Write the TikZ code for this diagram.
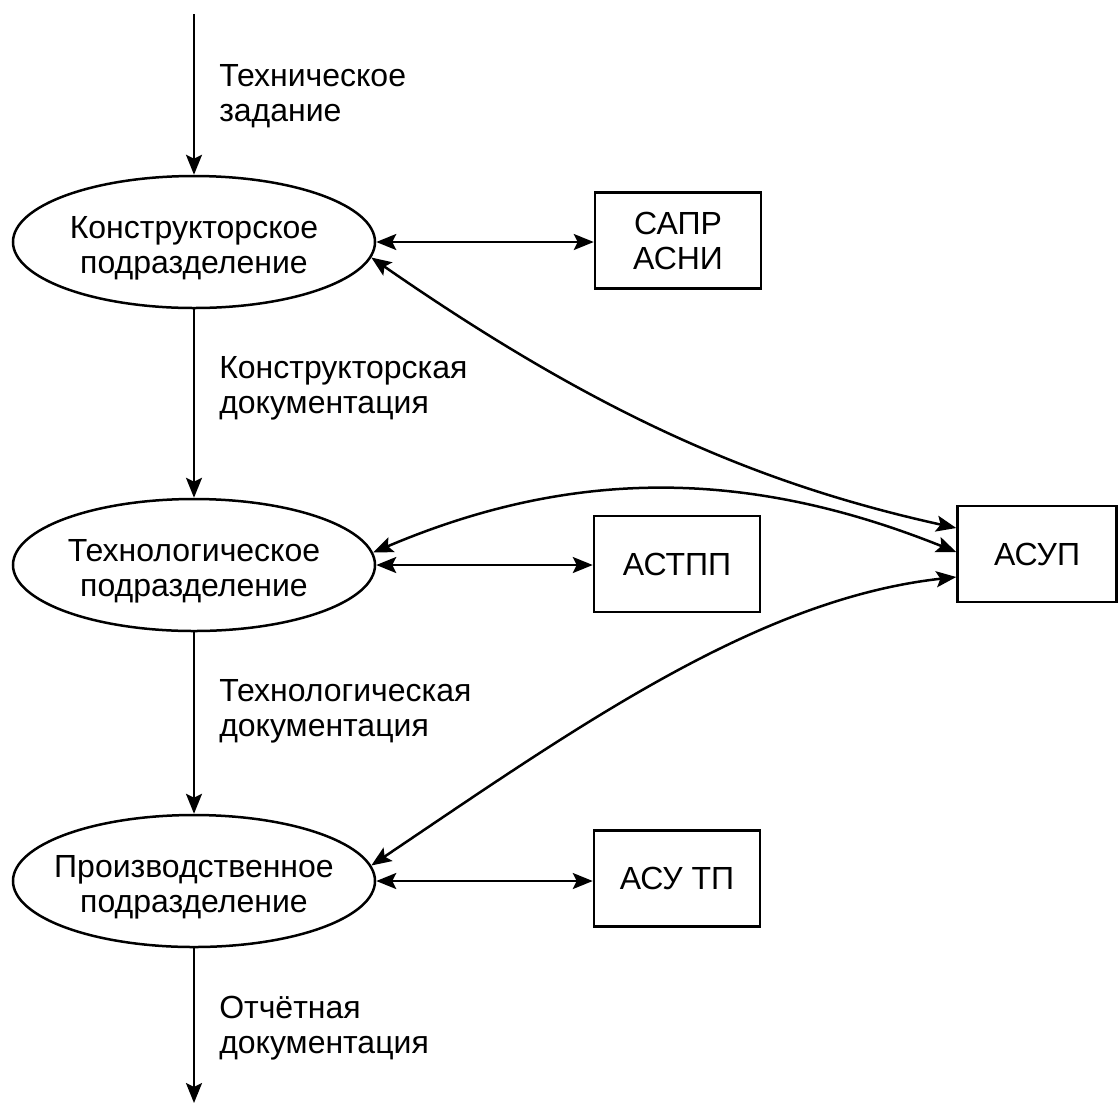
\documentclass[tikz,border=0pt]{standalone}
\usepackage{fontspec}
\setmainfont{Liberation Sans}
\usetikzlibrary{arrows.meta,shapes.geometric}
\newcommand{\firstlinepad}{\rule{0pt}{34pt}}
\begin{document}
\begin{tikzpicture}[x=1pt,y=-1pt,
  line width=2.5pt,
  >={Stealth[length=20pt,width=16pt,inset=4pt]},
  txt/.style={font=\fontsize{32pt}{35pt}\selectfont},
  dept/.style={draw,ellipse,txt,align=center,minimum width=362pt,minimum height=132pt,inner xsep=-20pt,inner ysep=0pt},
  sys/.style={draw,rectangle,txt,align=center,minimum width=166pt,minimum height=96pt,inner sep=0pt},
  lbl/.style={txt,align=left,anchor=base west,inner sep=0pt}]
\useasboundingbox (0,0) rectangle (1118,1104);

\node[dept] (k) at (194,242) {\firstlinepad Конструкторское\\подразделение};
\node[dept] (t) at (194,565) {\firstlinepad Технологическое\\подразделение};
\node[dept] (p) at (194,881) {\firstlinepad Производственное\\подразделение};

\node[sys] (sapr) at (678,240.5) {САПР\\АСНИ};
\node[sys] (astpp) at (677,564) {АСТПП};
\node[sys] (asutp) at (677,878.5) {АСУ ТП};
\node[sys,minimum width=159pt] (asup) at (1037,554) {АСУП};

\coordinate (top) at (194,14);
\coordinate (bot) at (194,1103);

\draw[->] (top) -- (k.north);
\draw[->] (k.south) -- (t.north);
\draw[->] (t.south) -- (p.north);
\draw[->] (p.south) -- (bot);

\node[lbl] (l1) at (218,121) {Техническое\\задание};
\node[lbl] (l2) at (218,413) {Конструкторская\\документация};
\node[lbl] (l3) at (218,736) {Технологическая\\документация};
\node[lbl] (l4) at (218,1053) {Отчётная\\документация};

\draw[<->] (k.east) -- (k.east -| sapr.west);
\draw[<->] (t.east) -- (t.east -| astpp.west);
\draw[<->] (p.east) -- (p.east -| asutp.west);

\draw[<->] (k.-5) .. controls (597,414) and (757,484) .. ([yshift=26pt]asup.west);
\draw[<->] (t.4) .. controls (572,468) and (747,468) .. ([yshift=2pt]asup.west);
\draw[<->] (p.5) .. controls (577,727) and (757,599) .. ([yshift=-23pt]asup.west);
\end{tikzpicture}
\end{document}
